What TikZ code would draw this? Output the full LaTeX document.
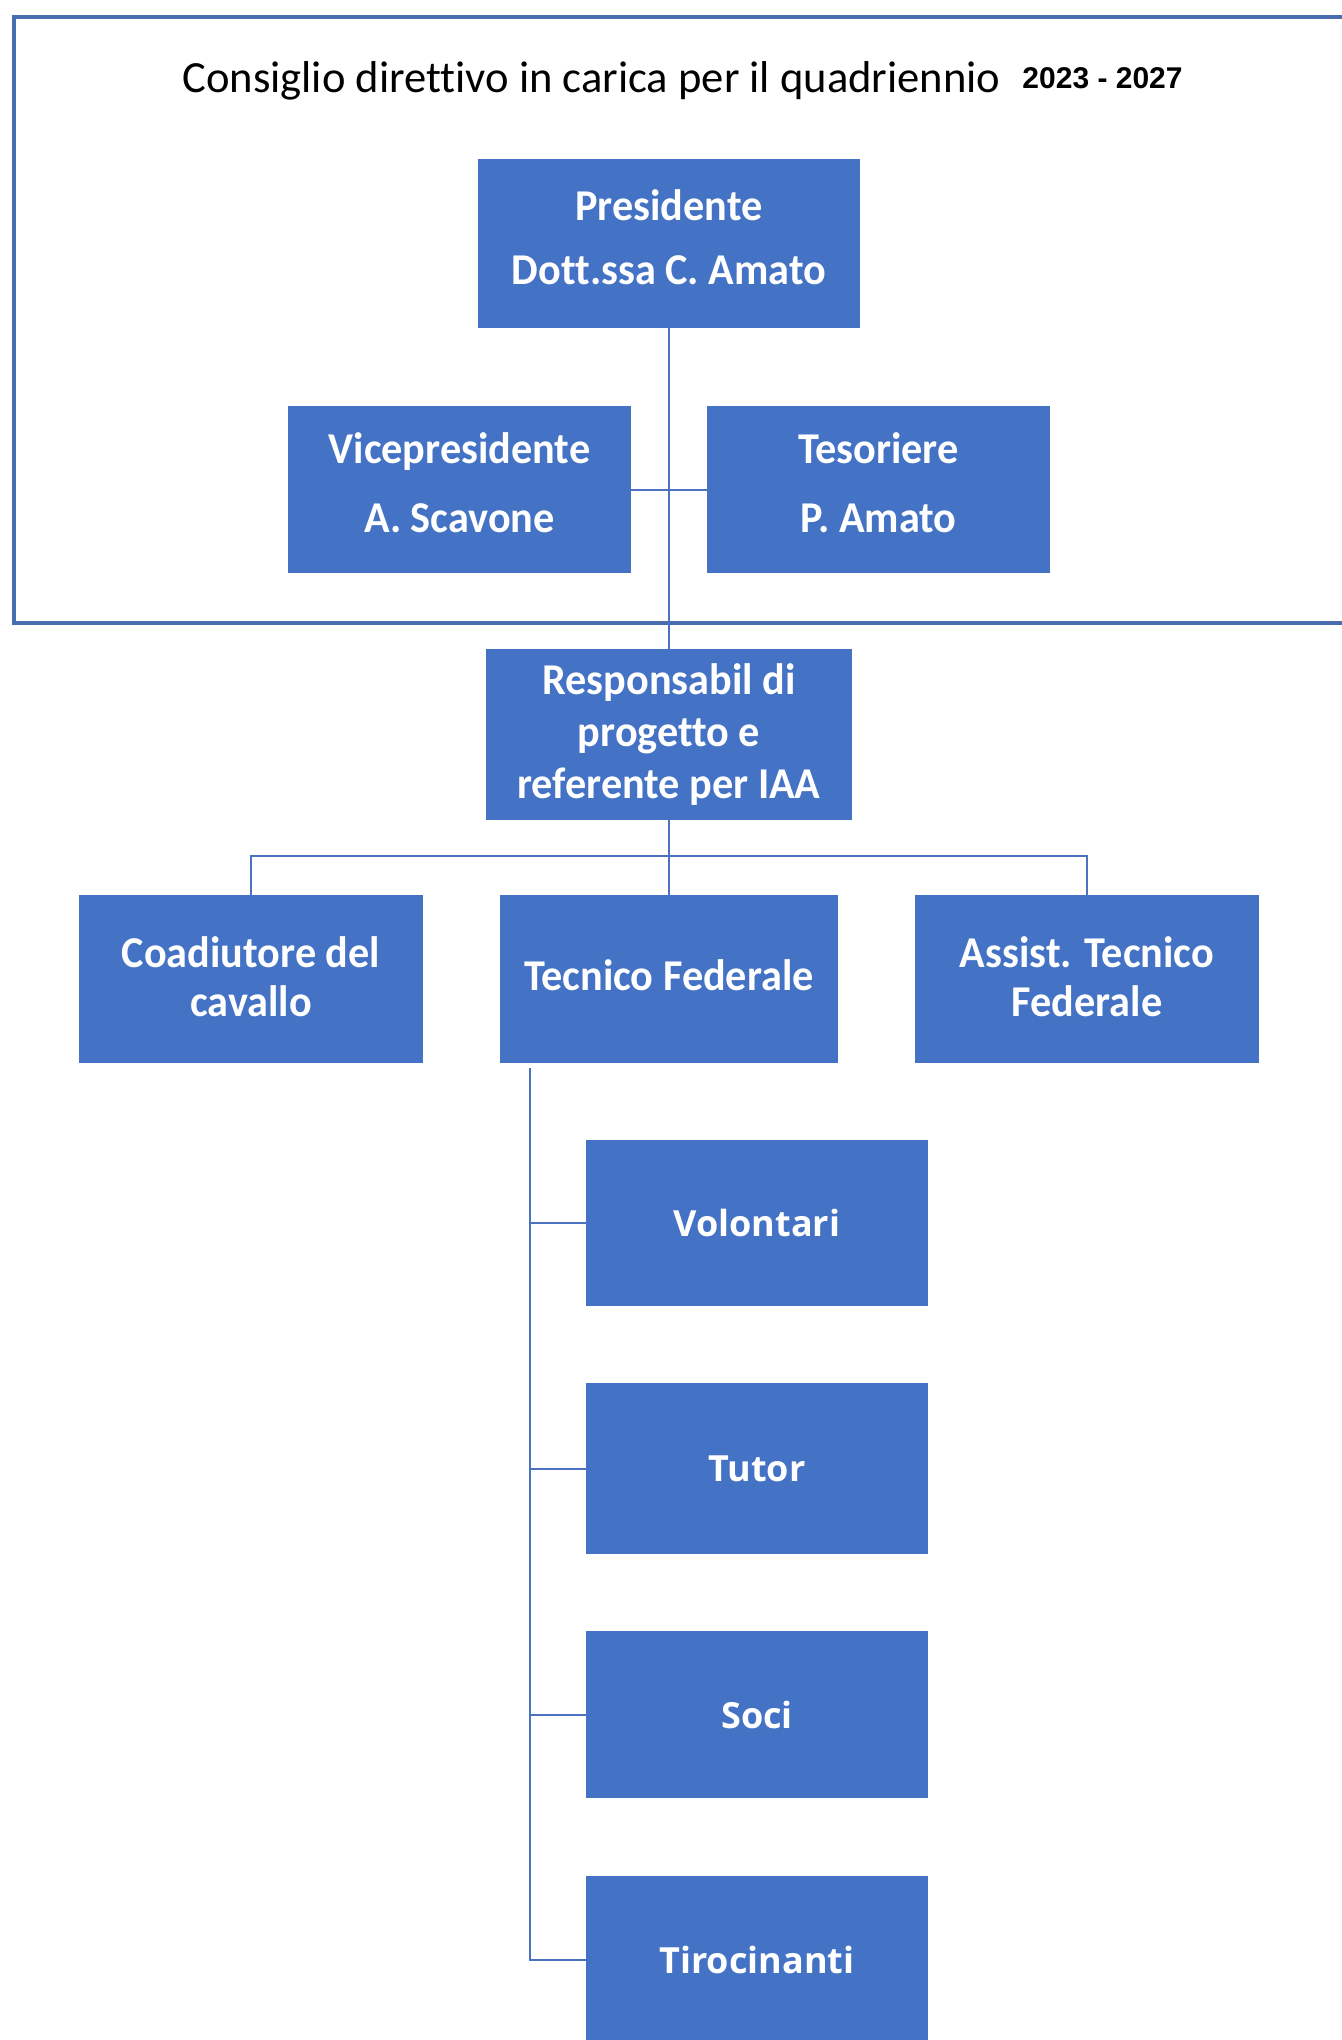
\documentclass[tikz,border=0pt]{standalone}
\usepackage{fontspec}
\setmainfont{Carlito}[Ligatures=CommonOff]
\newfontfamily\boxfont{Carlito}[Ligatures=CommonOff,FakeStretch=0.96]
\newfontfamily\opensans{Open Sans}
\newfontfamily\arialfont{Liberation Sans}
\usepackage{tikz}
\usetikzlibrary{calc}
\definecolor{boxblue}{HTML}{4472C4}
\definecolor{lineblue}{HTML}{4A72BE}
\definecolor{frameblue}{HTML}{4A6DB0}
\newcommand{\lift}[1]{\rule[-#1]{0pt}{0pt}}
\tikzset{
  box/.style={fill=boxblue,text=white,inner sep=0pt,align=center,
    font=\boxfont\bfseries\fontsize{22}{26}\selectfont},
  rowbox/.style={box,minimum width=172pt,minimum height=84pt,
    font=\boxfont\bfseries\fontsize{22}{24.5}\selectfont},
  lowbox/.style={box,minimum width=171pt,minimum height=84pt,
    font=\opensans\bfseries\fontsize{18}{22}\selectfont},
  link/.style={draw=lineblue,line width=1pt},
  frame/.style={draw=frameblue,line width=1.6pt},
  titletext/.style={inner sep=0pt,font=\fontsize{22.3}{26}\selectfont},
  yeartext/.style={inner sep=0pt,font=\arialfont\bfseries\fontsize{15}{18}\selectfont}
}

\begin{document}
\begin{tikzpicture}[x=0.5pt,y=-0.5pt]
      \useasboundingbox (0,0) rectangle (1342,2040);
      \draw[frame] (1350,17) -- (14,17) -- (14,623) -- (1350,623);
      \node[titletext,anchor=base west] (title) at (182,92)
      {Consiglio direttivo in carica per il quadriennio};
      \node[yeartext,anchor=base west] (year) at ([xshift=10.5pt,yshift=2pt]title.base east)
      {2023 - 2027};

      \node[box,minimum width=191pt,minimum height=84.5pt] (pres) at (669,243.5)
      {Presidente\\[6pt]Dott.ssa C. Amato\lift{6.5pt}};
      \node[box,minimum width=171.5pt,minimum height=83.5pt] (vice) at (459.5,489.5)
      {Vicepresidente\\[8.5pt]A. Scavone\lift{6.5pt}};
      \node[box,minimum width=171.5pt,minimum height=83.5pt] (tes) at (878.5,489.5)
      {Tesoriere\\[8.5pt]P. Amato\lift{6.5pt}};
      \node[box,minimum width=183pt,minimum height=85.5pt] (resp) at (669,734.5)
      {Responsabil di\\progetto e\\referente per IAA};

      \node[rowbox] (coad) at (251,979) {Coadiutore del\\cavallo\lift{2pt}};
      \node[rowbox,minimum width=169pt] (tec) at (669,979) {Tecnico Federale\lift{4pt}};
      \node[rowbox] (assist) at (1087,979) {Assist. Tecnico\\Federale\lift{2pt}};

      \node[lowbox,minimum height=83pt] (vol) at (757,1223) {Volontari};
      \node[lowbox,minimum height=85.5pt] (tut) at (757,1468.5) {Tutor};
      \node[lowbox,minimum height=83.5pt] (soci) at (757,1714.5) {Soci};
      \node[lowbox] (tir) at (757,1960) {Tirocinanti};

      \draw[link] (pres.south) -- (resp.north);
      \draw[link] (vice.east) -- (tes.west);
      \draw[link] (resp.south) -- (tec.north);
      \draw[link] (coad.north) -- ++(0,-39) -| (assist.north);

      \coordinate (spine) at (530,1068);
      \draw[link] (spine) |- (tir.west);
      \draw[link] (spine |- vol.west) -- (vol.west);
      \draw[link] (spine |- tut.west) -- (tut.west);
      \draw[link] (spine |- soci.west) -- (soci.west);
    \end{tikzpicture}
\end{document}
